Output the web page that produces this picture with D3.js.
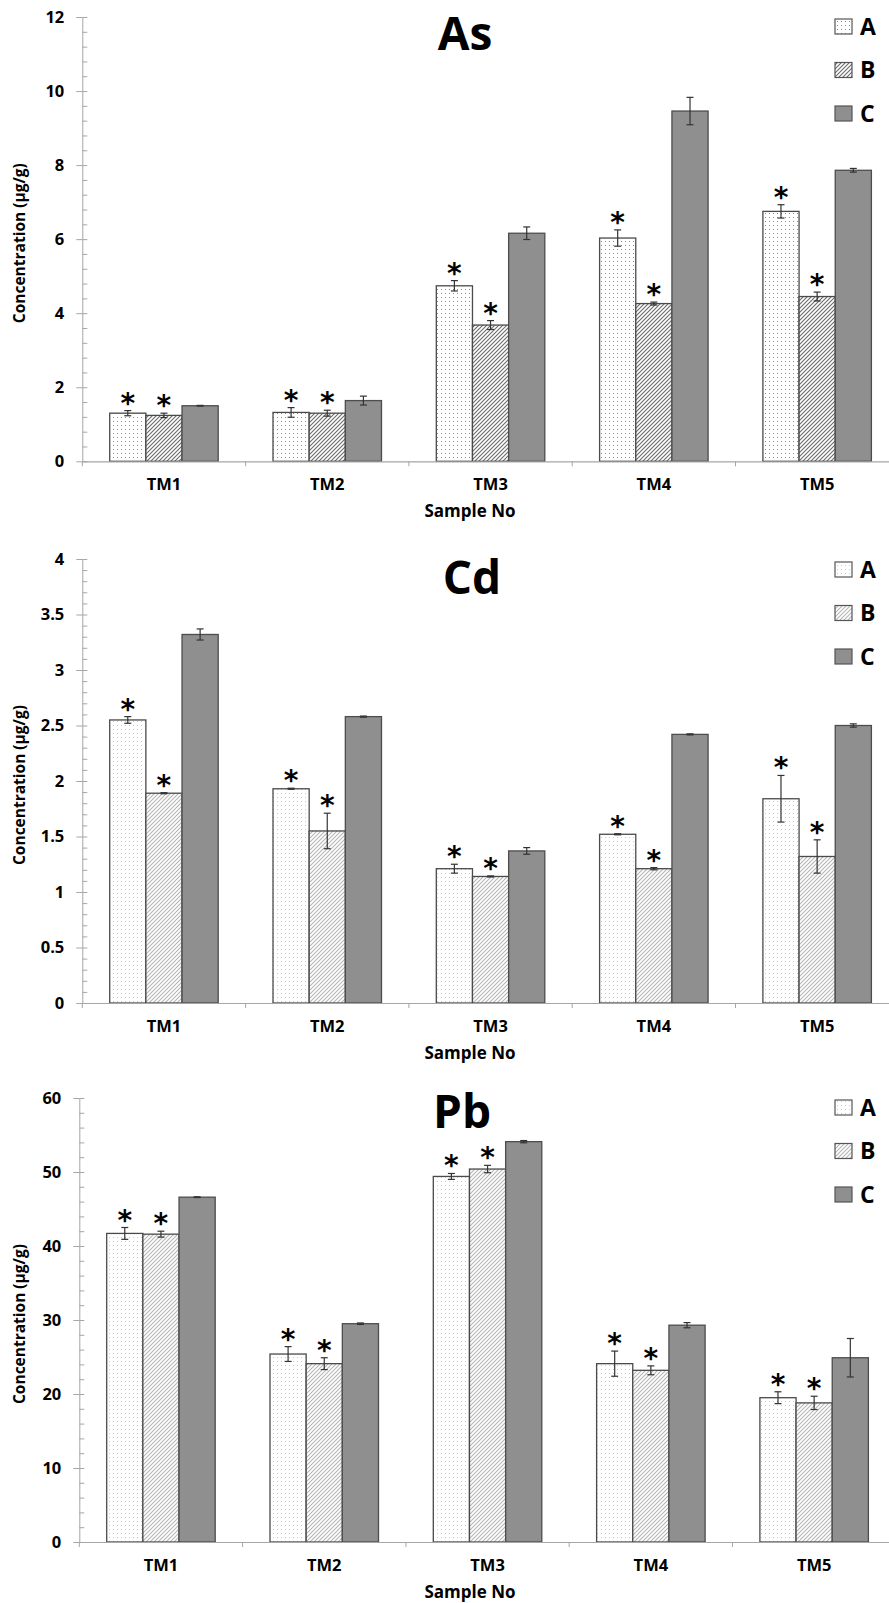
<!DOCTYPE html>
<html><head><meta charset="utf-8">
<script src="https://cdn.jsdelivr.net/npm/d3@7"></script>
<style>
body{margin:0;background:#fff}
svg{display:block}
text{font-family:"Open Sans",sans-serif;font-weight:700;fill:#000}
</style>
</head><body>
<svg id="c" width="889" height="1603"></svg>
<script>
const categories = ["TM1","TM2","TM3","TM4","TM5"];
const series = ["A","B","C"];

const asMeans = [[1.30,1.32,4.74,6.03,6.75],[1.24,1.30,3.68,4.26,4.45],[1.50,1.64,6.16,9.46,7.86]];
const asErrs  = [[0.07,0.13,0.14,0.22,0.18],[0.06,0.08,0.12,0.04,0.12],[0.01,0.12,0.17,0.37,0.05]];
const asSig   = [[1,1,1,1,1],[1,1,1,1,1],[0,0,0,0,0]];
const asTicks = [0,2,4,6,8,10,12];

const cdMeans = [[2.55,1.93,1.21,1.52,1.84],[1.89,1.55,1.14,1.21,1.32],[3.32,2.58,1.37,2.42,2.50]];
const cdErrs  = [[0.03,0.005,0.04,0.005,0.21],[0.005,0.16,0.005,0.01,0.15],[0.05,0.005,0.03,0.005,0.015]];
const cdSig   = [[1,1,1,1,1],[1,1,1,1,1],[0,0,0,0,0]];
const cdTicks = [0,0.5,1,1.5,2,2.5,3,3.5,4];

const pbMeans = [[41.7,25.4,49.4,24.1,19.5],[41.6,24.1,50.4,23.2,18.8],[46.6,29.5,54.1,29.3,24.9]];
const pbErrs  = [[0.8,1.0,0.4,1.7,0.8],[0.4,0.8,0.5,0.6,0.9],[0.05,0.1,0.15,0.35,2.6]];
const pbSig   = [[1,1,1,1,1],[1,1,1,1,1],[0,0,0,0,0]];
const pbTicks = [0,10,20,30,40,50,60];

const yTitle = "Concentration (µg/g)";
const xTitle = "Sample No";

const svg = d3.select("#c");
const defs = svg.append("defs");

function makePatterns(id, dotColor, hatchColor){
  const d = defs.append("pattern").attr("id","dots"+id).attr("patternUnits","userSpaceOnUse")
    .attr("width",4).attr("height",4);
  d.append("rect").attr("width",4).attr("height",4).attr("fill","#fff");
  d.append("rect").attr("x",1).attr("y",1).attr("width",1).attr("height",1).attr("fill",dotColor);
  const h = defs.append("pattern").attr("id","hatch"+id).attr("patternUnits","userSpaceOnUse")
    .attr("width",4).attr("height",4);
  h.append("rect").attr("width",4).attr("height",4).attr("fill","#fff");
  h.append("path").attr("d","M-1,1 l2,-2 M0,4 l4,-4 M3,5 l2,-2")
    .attr("stroke",hatchColor).attr("stroke-width",1.1);
}
makePatterns("Dark","#8a8a8a","#6a6a6a");
makePatterns("Light","#c8c8c8","#b5b5b5");

const axisColor = "#a6a6a6";

function drawPanel(cfg){
  const {name, means, errs, sig, ticks, top, bottom, axisX, minorStep, titlePos, legendTop, style, fmt} = cfg;
  const step = 163.3;
  const fills = ["url(#dots"+style+")","url(#hatch"+style+")","#8f8f8f"];
  const strokes = ["#4a4a4a","#4a4a4a","#4d4d4d"];
  const g = svg.append("g");

  const y = d3.scaleLinear().domain([0, d3.max(ticks)]).range([bottom, top]);
  const x0 = d3.scaleBand().domain(categories).range([axisX, axisX + 5*step])
    .paddingInner(0.3356).paddingOuter(0.1678);
  const x1 = d3.scaleBand().domain(series).range([0, x0.bandwidth()]);

  const minor = d3.range(0, d3.max(ticks) + minorStep/2, minorStep);
  const minorAxis = g.append("g").attr("transform",`translate(${axisX},0)`)
    .call(d3.axisRight(y).tickValues(minor).tickSize(5).tickFormat(""));
  minorAxis.select(".domain").remove();
  minorAxis.selectAll("line").attr("stroke",axisColor);

  const yAxis = g.append("g").attr("transform",`translate(${axisX},0)`)
    .call(d3.axisLeft(y).tickValues(ticks).tickSizeInner(6).tickSizeOuter(0).tickPadding(12).tickFormat(fmt));
  yAxis.select(".domain").attr("stroke",axisColor);
  yAxis.selectAll("line").attr("stroke",axisColor);
  yAxis.selectAll("text").style("font-size","16.5px").style("font-family","'Open Sans',sans-serif").style("font-weight","700").attr("fill","#000");

  series.forEach((s, si) => {
    categories.forEach((c, ci) => {
      const v = means[si][ci];
      const bx = x0(c) + x1(s);
      g.append("rect").attr("x",bx).attr("y",y(v)).attr("width",x1.bandwidth()).attr("height",y(0)-y(v))
        .attr("fill",fills[si]).attr("stroke",strokes[si]).attr("stroke-width",1.3);
    });
  });

  const xAxis = g.append("g").attr("transform",`translate(0,${bottom})`)
    .call(d3.axisBottom(x0).tickSize(0).tickPadding(17));
  xAxis.select(".domain").attr("stroke",axisColor).attr("stroke-width",1.2);
  xAxis.selectAll("text").style("font-size","16.5px").style("font-family","'Open Sans',sans-serif").style("font-weight","700").attr("fill","#000");
  const seps = d3.range(0, 6).map(i => axisX + i*step);
  g.selectAll(null).data(seps).enter().append("line")
    .attr("x1",d=>d).attr("x2",d=>d).attr("y1",bottom).attr("y2",bottom+5)
    .attr("stroke",axisColor);

  series.forEach((s, si) => {
    categories.forEach((c, ci) => {
      const v = means[si][ci], e = errs[si][ci];
      const cx = x0(c) + x1(s) + x1.bandwidth()/2;
      const y1 = y(v + e), y2 = y(v - e);
      const eg = g.append("g").attr("stroke","#333").attr("stroke-width",1.2);
      eg.append("line").attr("x1",cx).attr("x2",cx).attr("y1",y1).attr("y2",y2);
      eg.append("line").attr("x1",cx-3.5).attr("x2",cx+3.5).attr("y1",y1).attr("y2",y1);
      eg.append("line").attr("x1",cx-3.5).attr("x2",cx+3.5).attr("y1",y2).attr("y2",y2);
      if (sig[si][ci]) {
        g.append("text").attr("x",cx).attr("y",y1 + 2).attr("text-anchor","middle")
          .style("font-size","28px").style("font-family","'DejaVu Sans',sans-serif").text("*");
      }
    });
  });

  g.append("text").attr("x",titlePos[0]).attr("y",titlePos[1]).attr("text-anchor","middle")
    .style("font-size","46px").text(name);

  series.forEach((s, si) => {
    const ly = legendTop + si*43.5;
    g.append("rect").attr("x",835).attr("y",ly).attr("width",17).attr("height",15)
      .attr("fill",fills[si]).attr("stroke","#555").attr("stroke-width",1.2);
    g.append("text").attr("x",860).attr("y",ly+15.5).style("font-size","23px").text(s);
  });

  const my = (top + bottom)/2 + 4;
  g.append("text").attr("transform",`translate(25,${my}) rotate(-90)`).attr("text-anchor","middle")
    .style("font-size","15.5px").text(yTitle);
  g.append("text").attr("x",470).attr("y",bottom+56).attr("text-anchor","middle")
    .style("font-size","17px").text(xTitle);
}

drawPanel({name:"As", means:asMeans, errs:asErrs, sig:asSig, ticks:asTicks, top:17, bottom:461.3, axisX:82.3,
  minorStep:0.4, titlePos:[465,50], legendTop:19, style:"Dark", fmt:d3.format("d")});
drawPanel({name:"Cd", means:cdMeans, errs:cdErrs, sig:cdSig, ticks:cdTicks, top:559, bottom:1003, axisX:82.3,
  minorStep:0.1, titlePos:[472,594], legendTop:562, style:"Light", fmt:d=>String(d)});
drawPanel({name:"Pb", means:pbMeans, errs:pbErrs, sig:pbSig, ticks:pbTicks, top:1098, bottom:1542, axisX:79.3,
  minorStep:2, titlePos:[462,1128], legendTop:1100, style:"Light", fmt:d3.format("d")});
</script>
</body></html>
